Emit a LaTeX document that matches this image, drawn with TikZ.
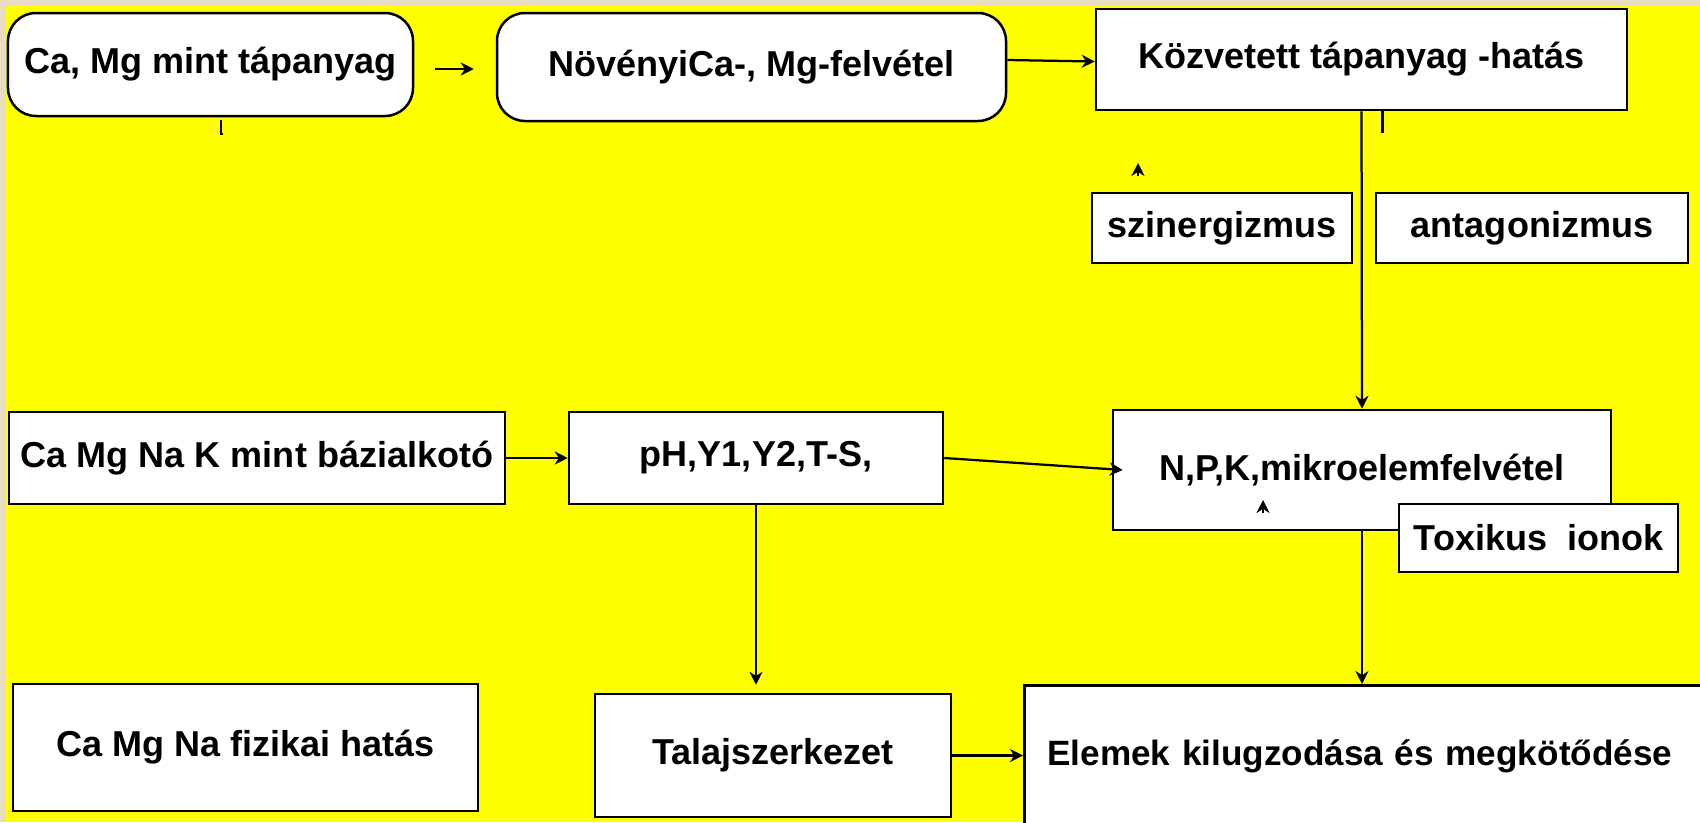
\documentclass[tikz,border=0pt]{standalone}
\usepackage{fontspec}
\setmainfont{Liberation Sans}
\usepackage{xcolor}
\definecolor{cYellow}{HTML}{FFFF00}
\definecolor{cFrame}{HTML}{E8DCC4}
\definecolor{cLine}{HTML}{000000}
\usepackage{tikz}
\usetikzlibrary{positioning,arrows.meta}
\tikzset{
  node-box/.style={draw=cLine,line width=0.5mm,fill=white,align=center,
    font=\bfseries\fontsize{20.5}{24}\selectfont},
  node-round/.style={node-box,rounded corners=5.6mm},
  % lone tips and stubs use the same thin black line
  arrow/.style={-{Stealth[length=2.6mm,width=2.6mm]},line width=0.45mm,draw=cLine},
  tick-line/.style={line width=0.45mm,draw=cLine},
}

\begin{document}
\begin{tikzpicture}[x=0.2mm,y=-0.2mm]
  \useasboundingbox (0,0) rectangle (1700,822);
  \fill[cFrame] (0,0) rectangle (1700,822);
  \fill[cYellow] (6,6) rectangle (1700,822);

  \node[node-round,minimum width=81mm,minimum height=20.6mm] (tapanyag) at (210.5,64.5) {Ca, Mg mint tápanyag};
  \node[node-round,minimum width=101.8mm,minimum height=21.6mm] (felvetel) at (751.5,67) {NövényiCa-, Mg-felvétel};
  \node[node-box,minimum width=106.2mm,minimum height=20.2mm] (kozvetett) at (1361.5,59.5) {Közvetett tápanyag -hatás};
  \node[node-box,minimum width=52mm,minimum height=14mm] (szinerg) at (1222,228) {szinergizmus};
  \node[node-box,minimum width=62.4mm,minimum height=14mm] (antag) at (1532,228) {antagonizmus};
  \node[node-box,minimum width=99.2mm,minimum height=18.4mm] (bazis) at (257,458) {Ca Mg Na K mint bázialkotó};
  \node[node-box,minimum width=74.8mm,minimum height=18.4mm] (ph) at (756,458) {pH,Y1,Y2,T-S,};
  \node[node-box,minimum width=99.6mm,minimum height=24mm] (npk) at (1362,470) {N,P,K,mikroelemfelvétel};
  \node[node-box,minimum width=55.8mm,minimum height=13.6mm] (toxikus) at (1538.5,538) {Toxikus~~ionok};
  \node[node-box,minimum width=93mm,minimum height=25.4mm] (fizikai) at (245.5,747.5) {Ca Mg Na fizikai hatás};
  \node[node-box,minimum width=71.2mm,minimum height=24.6mm] (talaj) at (773,755.5) {Talajszerkezet};
  \node[node-box,font=\bfseries\fontsize{20}{24}\selectfont,anchor=north west,text width=133mm,align=left,
    inner xsep=4.6mm,inner ysep=10.5mm,text height=5.5mm,text depth=10mm] (elemek) at (1023,684) {Elemek kilugzodása és megkötődése};

  \coordinate (syn-tip) at (1138,163);
  \coordinate (npk-tip) at (1263,500);

  \draw[arrow,shorten <=4.2mm,shorten >=4.4mm] ([yshift=-0.9mm]tapanyag.east) -- ([yshift=-0.9mm]tapanyag.east -| felvetel.west);
  \draw[tick-line] ([xshift=2.1mm,yshift=-0.6mm]tapanyag.south) -- ++(0,14) -- ++(2,0);
  \draw[arrow] ([yshift=1.4mm]felvetel.east) -- ([yshift=-0.4mm]kozvetett.west);
  \draw[arrow] (kozvetett.south) -- (npk.north);
  \draw[tick-line] ([xshift=4.2mm]kozvetett.south) -- ++(0,22);
  \draw[arrow] ([yshift=-2.6mm]syn-tip) -- (syn-tip);
  \draw[arrow] ([yshift=-2.6mm]npk-tip) -- (npk-tip);
  \draw[arrow] (bazis) -- (ph);
  \draw[arrow] (ph.east) -- ([xshift=2.2mm]npk.west);
  \draw[arrow,shorten >=1.6mm] (ph.south) -- (ph.south |- talaj.north);
  \draw[arrow] (npk.south) -- (npk.south |- elemek.north);
  \draw[arrow] (talaj.east) -- (talaj.east -| elemek.west);
\end{tikzpicture}
\end{document}
